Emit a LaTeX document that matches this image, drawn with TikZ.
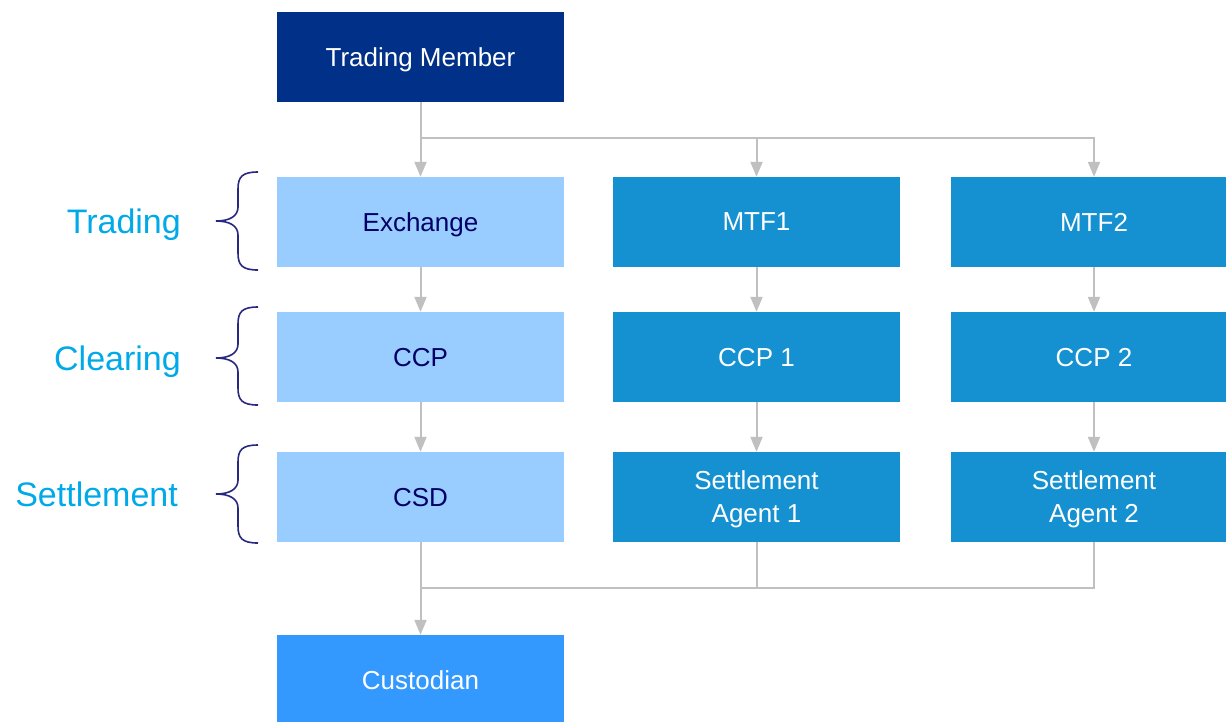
\documentclass[tikz,border=0pt]{standalone}
\usepackage{fontspec}
\setmainfont{Liberation Sans}
\usetikzlibrary{arrows.meta}
\definecolor{navy}{RGB}{0,48,135}
\definecolor{lightbox}{RGB}{153,204,255}
\definecolor{midbox}{RGB}{21,145,209}
\definecolor{custbox}{RGB}{51,153,255}
\definecolor{darktext}{RGB}{0,0,102}
\definecolor{labelcol}{RGB}{0,169,232}
\definecolor{bracecol}{RGB}{40,40,128}
\definecolor{linecol}{RGB}{192,192,192}
\tikzset{
  box/.style={minimum width=287pt, minimum height=90pt, inner sep=0pt, align=center,
    font=\fontsize{26}{33}\selectfont, text=white, text depth=0pt},
  lightb/.style={box, fill=lightbox, text=darktext},
  midb/.style={box, fill=midbox},
  conn/.style={draw=linecol, line width=2pt},
  arr/.style={conn, -{Triangle[width=12pt,length=15pt]}},
  lbl/.style={anchor=east, inner sep=0pt, text=labelcol, text depth=0pt,
    font=\fontsize{34}{40}\selectfont},
  bracel/.style={draw=bracecol, line width=1.6pt}
}
\begin{document}
\begin{tikzpicture}[x=1pt,y=-1pt]
\useasboundingbox (0,0) rectangle (1226,721);
\clip (0,0) rectangle (1226,721);
% boxes
\node[box, fill=navy] (tm) at (420.5,57) {Trading Member};
\node[lightb] (ex) at (420.5,222) {Exchange};
\node[midb] (mtf1) at (756.5,222) {MTF1};
\node[midb] (mtf2) at (1094,222) {MTF2};
\node[lightb] (ccp) at (420.5,357) {CCP};
\node[midb] (ccp1) at (756.5,357) {CCP 1};
\node[midb] (ccp2) at (1094,357) {CCP 2};
\node[lightb] (csd) at (420.5,497) {CSD};
\node[midb] (sa1) at (756.5,497) {Settlement\\Agent 1};
\node[midb] (sa2) at (1094,497) {Settlement\\Agent 2};
\node[box, fill=custbox] (cus) at (420.5,680) {Custodian};
% connectors
\coordinate (j1) at (420.5,138);
\coordinate (j2) at (420.5,588);
\draw[arr] (tm.south) -- (ex.north);
\draw[arr] (j1) -| (mtf1.north);
\draw[arr] (j1) -| (mtf2.north);
\draw[arr] (ex.south) -- (ccp.north);
\draw[arr] (mtf1.south) -- (ccp1.north);
\draw[arr] (mtf2.south) -- (ccp2.north);
\draw[arr] (ccp.south) -- (csd.north);
\draw[arr] (ccp1.south) -- (sa1.north);
\draw[arr] (ccp2.south) -- (sa2.north);
\draw[arr] (csd.south) -- (cus.north);
\draw[conn] (sa1.south) |- (j2);
\draw[conn] (sa2.south) |- (j2);
% labels
\node[lbl] (lt) at (181,221) {Trading};
\node[lbl] (lc) at (181,358) {Clearing};
\node[lbl] (ls) at (178,494) {Settlement};
% braces
\foreach \t/\m/\b in {172/221/270, 307/358/405, 445/494/543}{
  \draw[bracel] (258,\t) .. controls (242,\t) and (238,\t+5) .. (238,\t+17)
    -- (238,\m-14) .. controls (238,\m-5) and (230,\m) .. (216,\m)
    .. controls (230,\m) and (238,\m+5) .. (238,\m+14)
    -- (238,\b-17) .. controls (238,\b-5) and (242,\b) .. (258,\b);
}
\end{tikzpicture}
\end{document}
